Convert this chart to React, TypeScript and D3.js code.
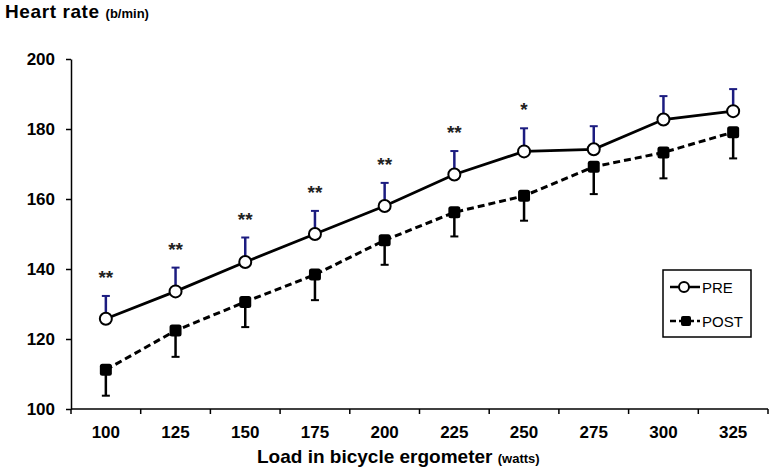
import * as React from 'react';
import * as d3 from 'd3';

const loads = ['100', '125', '150', '175', '200', '225', '250', '275', '300', '325'];
const preMean = [125.8, 133.6, 142, 150, 158, 167, 173.6, 174.2, 182.7, 185.1];
const preUpper = [132.3, 140.4, 149, 156.6, 164.6, 173.7, 180.2, 180.8, 189.4, 191.4];
const postMean = [111.2, 122.4, 130.6, 138.4, 148.2, 156.2, 160.9, 169.2, 173.3, 179.1];
const postLower = [103.8, 114.9, 123.4, 131.1, 141.2, 149.3, 153.8, 161.4, 165.9, 171.6];
const stars = ['**', '**', '**', '**', '**', '**', '*', '', '', ''];
const yTicks = [100, 120, 140, 160, 180, 200];

const W = 772;
const H = 472;
const font = 'Arial, "Liberation Sans", sans-serif';

export default function App() {
  const ref = React.useRef<SVGSVGElement>(null);

  React.useEffect(() => {
    const svg = d3.select(ref.current);
    svg.selectAll('*').remove();

    const x = d3.scaleBand().domain(loads).range([71, 768]);
    const y = d3.scaleLinear().domain([100, 200]).range([409, 59]);
    const cx = (i: number) => (x(loads[i]) as number) + x.bandwidth() / 2;

    // y axis
    const yAxis = svg.append('g').attr('transform', 'translate(71,0)')
      .call(d3.axisLeft(y).tickValues(yTicks).tickSize(5).tickSizeOuter(0).tickPadding(11));
    yAxis.select('.domain').attr('stroke', '#000').attr('stroke-width', 1.5);
    yAxis.selectAll('line').attr('stroke', '#000').attr('stroke-width', 1.5);
    yAxis.selectAll('text').attr('font-family', font).attr('font-size', 17)
      .attr('font-weight', 'bold').attr('fill', '#000');

    // x axis, ticks between categories
    const xg = svg.append('g');
    xg.append('line').attr('x1', 71).attr('x2', 768).attr('y1', y(100)).attr('y2', y(100))
      .attr('stroke', '#000').attr('stroke-width', 1.5);
    const edges = loads.map(l => x(l) as number).concat([768]);
    xg.selectAll('.xt').data(edges).enter().append('line')
      .attr('x1', d => d).attr('x2', d => d).attr('y1', y(100)).attr('y2', y(100) + 5)
      .attr('stroke', '#000').attr('stroke-width', 1.5);
    xg.selectAll('.xl').data(loads).enter().append('text')
      .attr('x', (d, i) => cx(i)).attr('y', 438).attr('text-anchor', 'middle')
      .attr('font-family', font).attr('font-size', 17).attr('font-weight', 'bold')
      .text(d => d);

    // titles
    const yt = svg.append('text').attr('x', 5).attr('y', 18)
      .attr('font-family', font).attr('font-weight', 'bold');
    yt.append('tspan').attr('font-size', 19).attr('letter-spacing', 0.6).text('Heart rate ');
    yt.append('tspan').attr('font-size', 13).text('(b/min)');

    const xt = svg.append('text').attr('x', 257).attr('y', 463)
      .attr('font-family', font).attr('font-weight', 'bold');
    xt.append('tspan').attr('font-size', 19).text('Load in bicycle ergometer ');
    xt.append('tspan').attr('font-size', 13).text('(watts)');

    // error bars
    const navy = '#1c1c80';
    loads.forEach((_, i) => {
      svg.append('line').attr('x1', cx(i)).attr('x2', cx(i))
        .attr('y1', y(preMean[i])).attr('y2', y(preUpper[i]))
        .attr('stroke', navy).attr('stroke-width', 2.5);
      svg.append('line').attr('x1', cx(i) - 4).attr('x2', cx(i) + 4)
        .attr('y1', y(preUpper[i])).attr('y2', y(preUpper[i]))
        .attr('stroke', navy).attr('stroke-width', 2);
      svg.append('line').attr('x1', cx(i)).attr('x2', cx(i))
        .attr('y1', y(postMean[i])).attr('y2', y(postLower[i]))
        .attr('stroke', '#000').attr('stroke-width', 2.5);
      svg.append('line').attr('x1', cx(i) - 4).attr('x2', cx(i) + 4)
        .attr('y1', y(postLower[i])).attr('y2', y(postLower[i]))
        .attr('stroke', '#000').attr('stroke-width', 2);
    });

    const line = d3.line<number>().x((_, i) => cx(i)).y(d => y(d));
    svg.append('path').attr('d', line(postMean)).attr('fill', 'none')
      .attr('stroke', '#000').attr('stroke-width', 3).attr('stroke-dasharray', '7,4');
    svg.append('path').attr('d', line(preMean)).attr('fill', 'none')
      .attr('stroke', '#000').attr('stroke-width', 2.8);

    svg.selectAll('.post').data(postMean).enter().append('rect')
      .attr('x', (_, i) => cx(i) - 6).attr('y', d => y(d) - 6)
      .attr('width', 12).attr('height', 12).attr('rx', 2.5).attr('fill', '#000');
    svg.selectAll('.pre').data(preMean).enter().append('circle')
      .attr('cx', (_, i) => cx(i)).attr('cy', d => y(d)).attr('r', 6)
      .attr('fill', '#fff').attr('stroke', '#000').attr('stroke-width', 2);

    // significance stars
    svg.selectAll('.star').data(stars).enter().append('text')
      .attr('x', (_, i) => cx(i)).attr('y', (_, i) => y(preUpper[i]) - 12)
      .attr('text-anchor', 'middle').attr('font-family', font).attr('font-size', 19)
      .attr('font-weight', 'bold').attr('fill', '#222').text(d => d);

    // legend
    const lg = svg.append('g');
    lg.append('rect').attr('x', 663).attr('y', 270).attr('width', 88).attr('height', 67)
      .attr('fill', '#fff').attr('stroke', '#000').attr('stroke-width', 1.5);
    lg.append('line').attr('x1', 670).attr('x2', 700).attr('y1', 287).attr('y2', 287)
      .attr('stroke', '#000').attr('stroke-width', 2.5);
    lg.append('circle').attr('cx', 684).attr('cy', 287).attr('r', 5)
      .attr('fill', '#fff').attr('stroke', '#000').attr('stroke-width', 2);
    lg.append('line').attr('x1', 670).attr('x2', 700).attr('y1', 321).attr('y2', 321)
      .attr('stroke', '#000').attr('stroke-width', 2.5).attr('stroke-dasharray', '6,3');
    lg.append('rect').attr('x', 681).attr('y', 316).attr('width', 10).attr('height', 10)
      .attr('rx', 2).attr('fill', '#000');
    lg.append('text').attr('x', 702).attr('y', 293).attr('font-family', font)
      .attr('font-size', 15).text('PRE');
    lg.append('text').attr('x', 702).attr('y', 327).attr('font-family', font)
      .attr('font-size', 15).text('POST');
  }, []);

  return <svg ref={ref} width={W} height={H} style={{ position: 'absolute', left: 0, top: 0, background: '#fff' }} />;
}
